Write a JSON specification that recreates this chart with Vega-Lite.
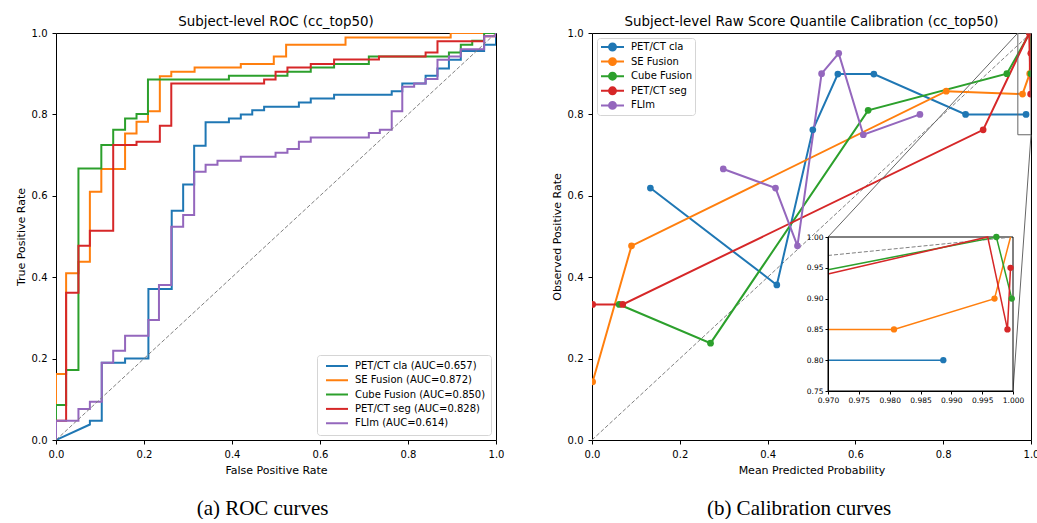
{
  "$schema": "https://vega.github.io/schema/vega-lite/v6.json",
  "background": "white",
  "padding": {"left": 14, "top": 14, "right": 0, "bottom": 0},
  "config": {
    "font": "DejaVu Sans",
    "view": {"stroke": "black", "strokeWidth": 1},
    "axis": {"grid": false, "domain": false, "labelFlush": false, "tickColor": "black", "tickSize": 4, "tickWidth": 1, "labelColor": "black", "labelFontSize": 10, "labelPadding": 5, "titleFontSize": 11, "titleFontWeight": "normal", "titleColor": "black", "titlePadding": 5, "labelFont": "DejaVu Sans", "titleFont": "DejaVu Sans"},
    "title": {"fontSize": 13.4, "fontWeight": "normal", "font": "DejaVu Sans", "color": "black"}
  },
  "datasets": {
    "roc": [
      {"m":"PET/CT cla (AUC=0.657)","k":0,"x":0,"y":0},{"m":"PET/CT cla (AUC=0.657)","k":1,"x":0.077,"y":0.038},{"m":"PET/CT cla (AUC=0.657)","k":2,"x":0.077,"y":0.047},{"m":"PET/CT cla (AUC=0.657)","k":3,"x":0.104,"y":0.047},{"m":"PET/CT cla (AUC=0.657)","k":4,"x":0.104,"y":0.19},{"m":"PET/CT cla (AUC=0.657)","k":5,"x":0.157,"y":0.19},{"m":"PET/CT cla (AUC=0.657)","k":6,"x":0.157,"y":0.2},{"m":"PET/CT cla (AUC=0.657)","k":7,"x":0.21,"y":0.2},{"m":"PET/CT cla (AUC=0.657)","k":8,"x":0.21,"y":0.371},{"m":"PET/CT cla (AUC=0.657)","k":9,"x":0.263,"y":0.371},{"m":"PET/CT cla (AUC=0.657)","k":10,"x":0.263,"y":0.563},{"m":"PET/CT cla (AUC=0.657)","k":11,"x":0.289,"y":0.563},{"m":"PET/CT cla (AUC=0.657)","k":12,"x":0.289,"y":0.628},{"m":"PET/CT cla (AUC=0.657)","k":13,"x":0.314,"y":0.628},{"m":"PET/CT cla (AUC=0.657)","k":14,"x":0.314,"y":0.723},{"m":"PET/CT cla (AUC=0.657)","k":15,"x":0.34,"y":0.723},{"m":"PET/CT cla (AUC=0.657)","k":16,"x":0.34,"y":0.781},{"m":"PET/CT cla (AUC=0.657)","k":17,"x":0.393,"y":0.781},{"m":"PET/CT cla (AUC=0.657)","k":18,"x":0.393,"y":0.79},{"m":"PET/CT cla (AUC=0.657)","k":19,"x":0.42,"y":0.79},{"m":"PET/CT cla (AUC=0.657)","k":20,"x":0.42,"y":0.8},{"m":"PET/CT cla (AUC=0.657)","k":21,"x":0.446,"y":0.8},{"m":"PET/CT cla (AUC=0.657)","k":22,"x":0.446,"y":0.81},{"m":"PET/CT cla (AUC=0.657)","k":23,"x":0.473,"y":0.81},{"m":"PET/CT cla (AUC=0.657)","k":24,"x":0.473,"y":0.819},{"m":"PET/CT cla (AUC=0.657)","k":25,"x":0.552,"y":0.819},{"m":"PET/CT cla (AUC=0.657)","k":26,"x":0.552,"y":0.829},{"m":"PET/CT cla (AUC=0.657)","k":27,"x":0.579,"y":0.829},{"m":"PET/CT cla (AUC=0.657)","k":28,"x":0.579,"y":0.839},{"m":"PET/CT cla (AUC=0.657)","k":29,"x":0.632,"y":0.839},{"m":"PET/CT cla (AUC=0.657)","k":30,"x":0.632,"y":0.848},{"m":"PET/CT cla (AUC=0.657)","k":31,"x":0.763,"y":0.848},{"m":"PET/CT cla (AUC=0.657)","k":32,"x":0.763,"y":0.857},{"m":"PET/CT cla (AUC=0.657)","k":33,"x":0.787,"y":0.857},{"m":"PET/CT cla (AUC=0.657)","k":34,"x":0.787,"y":0.876},{"m":"PET/CT cla (AUC=0.657)","k":35,"x":0.84,"y":0.876},{"m":"PET/CT cla (AUC=0.657)","k":36,"x":0.84,"y":0.895},{"m":"PET/CT cla (AUC=0.657)","k":37,"x":0.867,"y":0.895},{"m":"PET/CT cla (AUC=0.657)","k":38,"x":0.867,"y":0.913},{"m":"PET/CT cla (AUC=0.657)","k":39,"x":0.893,"y":0.913},{"m":"PET/CT cla (AUC=0.657)","k":40,"x":0.893,"y":0.934},{"m":"PET/CT cla (AUC=0.657)","k":41,"x":0.92,"y":0.934},{"m":"PET/CT cla (AUC=0.657)","k":42,"x":0.92,"y":0.956},{"m":"PET/CT cla (AUC=0.657)","k":43,"x":0.973,"y":0.956},{"m":"PET/CT cla (AUC=0.657)","k":44,"x":0.973,"y":0.971},{"m":"PET/CT cla (AUC=0.657)","k":45,"x":1.0,"y":0.971},{"m":"PET/CT cla (AUC=0.657)","k":46,"x":1.0,"y":1.0},
      {"m":"SE Fusion (AUC=0.872)","k":0,"x":0,"y":0},{"m":"SE Fusion (AUC=0.872)","k":1,"x":0,"y":0.162},{"m":"SE Fusion (AUC=0.872)","k":2,"x":0.023,"y":0.162},{"m":"SE Fusion (AUC=0.872)","k":3,"x":0.023,"y":0.41},{"m":"SE Fusion (AUC=0.872)","k":4,"x":0.051,"y":0.41},{"m":"SE Fusion (AUC=0.872)","k":5,"x":0.051,"y":0.438},{"m":"SE Fusion (AUC=0.872)","k":6,"x":0.077,"y":0.438},{"m":"SE Fusion (AUC=0.872)","k":7,"x":0.077,"y":0.61},{"m":"SE Fusion (AUC=0.872)","k":8,"x":0.103,"y":0.61},{"m":"SE Fusion (AUC=0.872)","k":9,"x":0.103,"y":0.666},{"m":"SE Fusion (AUC=0.872)","k":10,"x":0.157,"y":0.666},{"m":"SE Fusion (AUC=0.872)","k":11,"x":0.157,"y":0.753},{"m":"SE Fusion (AUC=0.872)","k":12,"x":0.183,"y":0.753},{"m":"SE Fusion (AUC=0.872)","k":13,"x":0.183,"y":0.782},{"m":"SE Fusion (AUC=0.872)","k":14,"x":0.209,"y":0.782},{"m":"SE Fusion (AUC=0.872)","k":15,"x":0.209,"y":0.808},{"m":"SE Fusion (AUC=0.872)","k":16,"x":0.236,"y":0.808},{"m":"SE Fusion (AUC=0.872)","k":17,"x":0.236,"y":0.894},{"m":"SE Fusion (AUC=0.872)","k":18,"x":0.262,"y":0.894},{"m":"SE Fusion (AUC=0.872)","k":19,"x":0.262,"y":0.905},{"m":"SE Fusion (AUC=0.872)","k":20,"x":0.315,"y":0.905},{"m":"SE Fusion (AUC=0.872)","k":21,"x":0.315,"y":0.915},{"m":"SE Fusion (AUC=0.872)","k":22,"x":0.42,"y":0.915},{"m":"SE Fusion (AUC=0.872)","k":23,"x":0.42,"y":0.924},{"m":"SE Fusion (AUC=0.872)","k":24,"x":0.495,"y":0.924},{"m":"SE Fusion (AUC=0.872)","k":25,"x":0.495,"y":0.942},{"m":"SE Fusion (AUC=0.872)","k":26,"x":0.523,"y":0.942},{"m":"SE Fusion (AUC=0.872)","k":27,"x":0.523,"y":0.971},{"m":"SE Fusion (AUC=0.872)","k":28,"x":0.658,"y":0.971},{"m":"SE Fusion (AUC=0.872)","k":29,"x":0.658,"y":0.989},{"m":"SE Fusion (AUC=0.872)","k":30,"x":0.897,"y":0.989},{"m":"SE Fusion (AUC=0.872)","k":31,"x":0.897,"y":1.0},{"m":"SE Fusion (AUC=0.872)","k":32,"x":1.0,"y":1.0},
      {"m":"Cube Fusion (AUC=0.850)","k":0,"x":0,"y":0},{"m":"Cube Fusion (AUC=0.850)","k":1,"x":0,"y":0.086},{"m":"Cube Fusion (AUC=0.850)","k":2,"x":0.023,"y":0.086},{"m":"Cube Fusion (AUC=0.850)","k":3,"x":0.023,"y":0.172},{"m":"Cube Fusion (AUC=0.850)","k":4,"x":0.051,"y":0.172},{"m":"Cube Fusion (AUC=0.850)","k":5,"x":0.051,"y":0.667},{"m":"Cube Fusion (AUC=0.850)","k":6,"x":0.103,"y":0.667},{"m":"Cube Fusion (AUC=0.850)","k":7,"x":0.103,"y":0.725},{"m":"Cube Fusion (AUC=0.850)","k":8,"x":0.13,"y":0.725},{"m":"Cube Fusion (AUC=0.850)","k":9,"x":0.13,"y":0.762},{"m":"Cube Fusion (AUC=0.850)","k":10,"x":0.157,"y":0.762},{"m":"Cube Fusion (AUC=0.850)","k":11,"x":0.157,"y":0.79},{"m":"Cube Fusion (AUC=0.850)","k":12,"x":0.183,"y":0.79},{"m":"Cube Fusion (AUC=0.850)","k":13,"x":0.183,"y":0.801},{"m":"Cube Fusion (AUC=0.850)","k":14,"x":0.209,"y":0.801},{"m":"Cube Fusion (AUC=0.850)","k":15,"x":0.209,"y":0.886},{"m":"Cube Fusion (AUC=0.850)","k":16,"x":0.393,"y":0.886},{"m":"Cube Fusion (AUC=0.850)","k":17,"x":0.393,"y":0.895},{"m":"Cube Fusion (AUC=0.850)","k":18,"x":0.526,"y":0.895},{"m":"Cube Fusion (AUC=0.850)","k":19,"x":0.526,"y":0.905},{"m":"Cube Fusion (AUC=0.850)","k":20,"x":0.579,"y":0.905},{"m":"Cube Fusion (AUC=0.850)","k":21,"x":0.579,"y":0.915},{"m":"Cube Fusion (AUC=0.850)","k":22,"x":0.632,"y":0.915},{"m":"Cube Fusion (AUC=0.850)","k":23,"x":0.632,"y":0.924},{"m":"Cube Fusion (AUC=0.850)","k":24,"x":0.711,"y":0.924},{"m":"Cube Fusion (AUC=0.850)","k":25,"x":0.711,"y":0.942},{"m":"Cube Fusion (AUC=0.850)","k":26,"x":0.893,"y":0.942},{"m":"Cube Fusion (AUC=0.850)","k":27,"x":0.893,"y":0.952},{"m":"Cube Fusion (AUC=0.850)","k":28,"x":0.92,"y":0.952},{"m":"Cube Fusion (AUC=0.850)","k":29,"x":0.92,"y":0.971},{"m":"Cube Fusion (AUC=0.850)","k":30,"x":0.946,"y":0.971},{"m":"Cube Fusion (AUC=0.850)","k":31,"x":0.946,"y":0.981},{"m":"Cube Fusion (AUC=0.850)","k":32,"x":0.973,"y":0.981},{"m":"Cube Fusion (AUC=0.850)","k":33,"x":0.973,"y":1.0},{"m":"Cube Fusion (AUC=0.850)","k":34,"x":1.0,"y":1.0},
      {"m":"PET/CT seg (AUC=0.828)","k":0,"x":0,"y":0},{"m":"PET/CT seg (AUC=0.828)","k":1,"x":0,"y":0.047},{"m":"PET/CT seg (AUC=0.828)","k":2,"x":0.023,"y":0.047},{"m":"PET/CT seg (AUC=0.828)","k":3,"x":0.023,"y":0.362},{"m":"PET/CT seg (AUC=0.828)","k":4,"x":0.051,"y":0.362},{"m":"PET/CT seg (AUC=0.828)","k":5,"x":0.051,"y":0.477},{"m":"PET/CT seg (AUC=0.828)","k":6,"x":0.077,"y":0.477},{"m":"PET/CT seg (AUC=0.828)","k":7,"x":0.077,"y":0.514},{"m":"PET/CT seg (AUC=0.828)","k":8,"x":0.13,"y":0.514},{"m":"PET/CT seg (AUC=0.828)","k":9,"x":0.13,"y":0.725},{"m":"PET/CT seg (AUC=0.828)","k":10,"x":0.183,"y":0.725},{"m":"PET/CT seg (AUC=0.828)","k":11,"x":0.183,"y":0.733},{"m":"PET/CT seg (AUC=0.828)","k":12,"x":0.236,"y":0.733},{"m":"PET/CT seg (AUC=0.828)","k":13,"x":0.236,"y":0.772},{"m":"PET/CT seg (AUC=0.828)","k":14,"x":0.262,"y":0.772},{"m":"PET/CT seg (AUC=0.828)","k":15,"x":0.262,"y":0.876},{"m":"PET/CT seg (AUC=0.828)","k":16,"x":0.473,"y":0.876},{"m":"PET/CT seg (AUC=0.828)","k":17,"x":0.473,"y":0.886},{"m":"PET/CT seg (AUC=0.828)","k":18,"x":0.499,"y":0.886},{"m":"PET/CT seg (AUC=0.828)","k":19,"x":0.499,"y":0.905},{"m":"PET/CT seg (AUC=0.828)","k":20,"x":0.526,"y":0.905},{"m":"PET/CT seg (AUC=0.828)","k":21,"x":0.526,"y":0.915},{"m":"PET/CT seg (AUC=0.828)","k":22,"x":0.579,"y":0.915},{"m":"PET/CT seg (AUC=0.828)","k":23,"x":0.579,"y":0.924},{"m":"PET/CT seg (AUC=0.828)","k":24,"x":0.632,"y":0.924},{"m":"PET/CT seg (AUC=0.828)","k":25,"x":0.632,"y":0.935},{"m":"PET/CT seg (AUC=0.828)","k":26,"x":0.734,"y":0.935},{"m":"PET/CT seg (AUC=0.828)","k":27,"x":0.734,"y":0.942},{"m":"PET/CT seg (AUC=0.828)","k":28,"x":0.84,"y":0.942},{"m":"PET/CT seg (AUC=0.828)","k":29,"x":0.84,"y":0.952},{"m":"PET/CT seg (AUC=0.828)","k":30,"x":0.867,"y":0.952},{"m":"PET/CT seg (AUC=0.828)","k":31,"x":0.867,"y":0.98},{"m":"PET/CT seg (AUC=0.828)","k":32,"x":0.973,"y":0.98},{"m":"PET/CT seg (AUC=0.828)","k":33,"x":0.973,"y":0.992},{"m":"PET/CT seg (AUC=0.828)","k":34,"x":1.0,"y":0.992},{"m":"PET/CT seg (AUC=0.828)","k":35,"x":1.0,"y":1.0},
      {"m":"FLIm (AUC=0.614)","k":0,"x":0,"y":0},{"m":"FLIm (AUC=0.614)","k":1,"x":0,"y":0.047},{"m":"FLIm (AUC=0.614)","k":2,"x":0.051,"y":0.047},{"m":"FLIm (AUC=0.614)","k":3,"x":0.051,"y":0.076},{"m":"FLIm (AUC=0.614)","k":4,"x":0.077,"y":0.076},{"m":"FLIm (AUC=0.614)","k":5,"x":0.077,"y":0.094},{"m":"FLIm (AUC=0.614)","k":6,"x":0.104,"y":0.094},{"m":"FLIm (AUC=0.614)","k":7,"x":0.104,"y":0.19},{"m":"FLIm (AUC=0.614)","k":8,"x":0.13,"y":0.19},{"m":"FLIm (AUC=0.614)","k":9,"x":0.13,"y":0.219},{"m":"FLIm (AUC=0.614)","k":10,"x":0.157,"y":0.219},{"m":"FLIm (AUC=0.614)","k":11,"x":0.157,"y":0.256},{"m":"FLIm (AUC=0.614)","k":12,"x":0.21,"y":0.256},{"m":"FLIm (AUC=0.614)","k":13,"x":0.21,"y":0.295},{"m":"FLIm (AUC=0.614)","k":14,"x":0.234,"y":0.295},{"m":"FLIm (AUC=0.614)","k":15,"x":0.234,"y":0.381},{"m":"FLIm (AUC=0.614)","k":16,"x":0.262,"y":0.381},{"m":"FLIm (AUC=0.614)","k":17,"x":0.262,"y":0.524},{"m":"FLIm (AUC=0.614)","k":18,"x":0.289,"y":0.524},{"m":"FLIm (AUC=0.614)","k":19,"x":0.289,"y":0.553},{"m":"FLIm (AUC=0.614)","k":20,"x":0.314,"y":0.553},{"m":"FLIm (AUC=0.614)","k":21,"x":0.314,"y":0.659},{"m":"FLIm (AUC=0.614)","k":22,"x":0.34,"y":0.659},{"m":"FLIm (AUC=0.614)","k":23,"x":0.34,"y":0.676},{"m":"FLIm (AUC=0.614)","k":24,"x":0.367,"y":0.676},{"m":"FLIm (AUC=0.614)","k":25,"x":0.367,"y":0.686},{"m":"FLIm (AUC=0.614)","k":26,"x":0.42,"y":0.686},{"m":"FLIm (AUC=0.614)","k":27,"x":0.42,"y":0.696},{"m":"FLIm (AUC=0.614)","k":28,"x":0.499,"y":0.696},{"m":"FLIm (AUC=0.614)","k":29,"x":0.499,"y":0.706},{"m":"FLIm (AUC=0.614)","k":30,"x":0.526,"y":0.706},{"m":"FLIm (AUC=0.614)","k":31,"x":0.526,"y":0.715},{"m":"FLIm (AUC=0.614)","k":32,"x":0.552,"y":0.715},{"m":"FLIm (AUC=0.614)","k":33,"x":0.552,"y":0.733},{"m":"FLIm (AUC=0.614)","k":34,"x":0.579,"y":0.733},{"m":"FLIm (AUC=0.614)","k":35,"x":0.579,"y":0.743},{"m":"FLIm (AUC=0.614)","k":36,"x":0.711,"y":0.743},{"m":"FLIm (AUC=0.614)","k":37,"x":0.711,"y":0.754},{"m":"FLIm (AUC=0.614)","k":38,"x":0.736,"y":0.754},{"m":"FLIm (AUC=0.614)","k":39,"x":0.736,"y":0.762},{"m":"FLIm (AUC=0.614)","k":40,"x":0.763,"y":0.762},{"m":"FLIm (AUC=0.614)","k":41,"x":0.763,"y":0.808},{"m":"FLIm (AUC=0.614)","k":42,"x":0.787,"y":0.808},{"m":"FLIm (AUC=0.614)","k":43,"x":0.787,"y":0.868},{"m":"FLIm (AUC=0.614)","k":44,"x":0.814,"y":0.868},{"m":"FLIm (AUC=0.614)","k":45,"x":0.814,"y":0.876},{"m":"FLIm (AUC=0.614)","k":46,"x":0.84,"y":0.876},{"m":"FLIm (AUC=0.614)","k":47,"x":0.84,"y":0.887},{"m":"FLIm (AUC=0.614)","k":48,"x":0.867,"y":0.887},{"m":"FLIm (AUC=0.614)","k":49,"x":0.867,"y":0.934},{"m":"FLIm (AUC=0.614)","k":50,"x":0.893,"y":0.934},{"m":"FLIm (AUC=0.614)","k":51,"x":0.893,"y":0.942},{"m":"FLIm (AUC=0.614)","k":52,"x":0.92,"y":0.942},{"m":"FLIm (AUC=0.614)","k":53,"x":0.92,"y":0.96},{"m":"FLIm (AUC=0.614)","k":54,"x":0.973,"y":0.96},{"m":"FLIm (AUC=0.614)","k":55,"x":0.973,"y":0.992},{"m":"FLIm (AUC=0.614)","k":56,"x":1.0,"y":0.992},{"m":"FLIm (AUC=0.614)","k":57,"x":1.0,"y":1.0}
    ],
    "cal": [
      {"m":"PET/CT cla","k":0,"x":0.133,"y":0.619},{"m":"PET/CT cla","k":1,"x":0.421,"y":0.381},{"m":"PET/CT cla","k":2,"x":0.503,"y":0.762},{"m":"PET/CT cla","k":3,"x":0.56,"y":0.899},{"m":"PET/CT cla","k":4,"x":0.642,"y":0.899},{"m":"PET/CT cla","k":5,"x":0.851,"y":0.8},{"m":"PET/CT cla","k":6,"x":0.9887,"y":0.8},
      {"m":"SE Fusion","k":0,"x":0.0015,"y":0.143},{"m":"SE Fusion","k":1,"x":0.09,"y":0.477},{"m":"SE Fusion","k":2,"x":0.807,"y":0.857},{"m":"SE Fusion","k":3,"x":0.9807,"y":0.85},{"m":"SE Fusion","k":4,"x":0.997,"y":0.9},{"m":"SE Fusion","k":5,"x":0.9996,"y":1.0},
      {"m":"Cube Fusion","k":0,"x":0.062,"y":0.333},{"m":"Cube Fusion","k":1,"x":0.27,"y":0.238},{"m":"Cube Fusion","k":2,"x":0.629,"y":0.81},{"m":"Cube Fusion","k":3,"x":0.945,"y":0.9},{"m":"Cube Fusion","k":4,"x":0.9973,"y":1.0},{"m":"Cube Fusion","k":5,"x":0.9998,"y":0.9},
      {"m":"PET/CT seg","k":0,"x":0.0015,"y":0.333},{"m":"PET/CT seg","k":1,"x":0.07,"y":0.333},{"m":"PET/CT seg","k":2,"x":0.891,"y":0.762},{"m":"PET/CT seg","k":3,"x":0.9959,"y":1.0},{"m":"PET/CT seg","k":4,"x":0.9991,"y":0.85},{"m":"PET/CT seg","k":5,"x":0.9996,"y":0.95},
      {"m":"FLIm","k":0,"x":0.299,"y":0.666},{"m":"FLIm","k":1,"x":0.418,"y":0.619},{"m":"FLIm","k":2,"x":0.468,"y":0.477},{"m":"FLIm","k":3,"x":0.523,"y":0.9},{"m":"FLIm","k":4,"x":0.562,"y":0.95},{"m":"FLIm","k":5,"x":0.618,"y":0.75},{"m":"FLIm","k":6,"x":0.747,"y":0.8}
    ],
    "insetLines": [
      {"m":"PET/CT cla","k":0,"x":0.97,"y":0.8},{"m":"PET/CT cla","k":1,"x":0.9887,"y":0.8},
      {"m":"SE Fusion","k":0,"x":0.97,"y":0.85},{"m":"SE Fusion","k":1,"x":0.9807,"y":0.85},{"m":"SE Fusion","k":2,"x":0.997,"y":0.9},{"m":"SE Fusion","k":3,"x":0.9996,"y":1.0},
      {"m":"Cube Fusion","k":0,"x":0.97,"y":0.947},{"m":"Cube Fusion","k":1,"x":0.9973,"y":1.0},{"m":"Cube Fusion","k":2,"x":0.9998,"y":0.9},
      {"m":"PET/CT seg","k":0,"x":0.97,"y":0.94},{"m":"PET/CT seg","k":1,"x":0.9959,"y":1.0},{"m":"PET/CT seg","k":2,"x":0.9991,"y":0.85},{"m":"PET/CT seg","k":3,"x":0.9996,"y":0.95}
    ],
    "insetPoints": [
      {"m":"PET/CT cla","x":0.9887,"y":0.8},
      {"m":"SE Fusion","x":0.9807,"y":0.85},{"m":"SE Fusion","x":0.997,"y":0.9},
      {"m":"Cube Fusion","x":0.9973,"y":1.0},{"m":"Cube Fusion","x":0.9998,"y":0.9},
      {"m":"PET/CT seg","x":0.9991,"y":0.85},{"m":"PET/CT seg","x":0.9996,"y":0.95}
    ]
  },
  "spacing": 45,
  "resolve": {"scale": {"color": "independent"}, "legend": {"color": "independent"}},
  "hconcat": [
    {
      "title": {"text": "(a) ROC curves", "orient": "bottom", "anchor": "middle", "frame": "bounds", "font": "Liberation Serif", "fontSize": 21, "fontWeight": "normal", "color": "black", "offset": 22, "dx": 3},
      "resolve": {"scale": {"color": "independent"}, "legend": {"color": "independent"}},
      "vconcat": [
        {
          "width": 440,
          "height": 407,
          "title": {"text": "Subject-level ROC (cc_top50)", "offset": 0},
          "layer": [
            {
              "data": {"name": "roc"},
              "mark": {"type": "line", "strokeWidth": 2, "clip": true},
              "encoding": {
                "x": {"field": "x", "type": "quantitative", "scale": {"domain": [0, 1], "nice": false, "zero": false}, "axis": {"title": "False Positive Rate", "values": [0, 0.2, 0.4, 0.6, 0.8, 1.0], "format": ".1f"}},
                "y": {"field": "y", "type": "quantitative", "scale": {"domain": [0, 1], "nice": false, "zero": false}, "axis": {"title": "True Positive Rate", "values": [0, 0.2, 0.4, 0.6, 0.8, 1.0], "format": ".1f"}},
                "order": {"field": "k", "type": "quantitative"},
                "color": {
                  "field": "m", "type": "nominal",
                  "scale": {"domain": ["PET/CT cla (AUC=0.657)", "SE Fusion (AUC=0.872)", "Cube Fusion (AUC=0.850)", "PET/CT seg (AUC=0.828)", "FLIm (AUC=0.614)"], "range": ["#1f77b4", "#ff7f0e", "#2ca02c", "#d62728", "#9467bd"]},
                  "legend": {"title": null, "orient": "bottom-right", "offset": 5, "padding": 5, "symbolType": "stroke", "symbolSize": 484, "symbolStrokeWidth": 2, "symbolOffset": 3, "labelOffset": 6, "labelFontSize": 10, "labelColor": "black", "clipHeight": 12, "rowPadding": 2.3, "strokeColor": "#d5d5d5", "fillColor": "white", "cornerRadius": 3}
                }
              }
            },
            {
              "data": {"values": [{"x": 0, "y": 0}, {"x": 1, "y": 1}]},
              "mark": {"type": "line", "strokeDash": [4, 2], "color": "#808080", "strokeWidth": 1},
              "encoding": {
                "x": {"field": "x", "type": "quantitative"},
                "y": {"field": "y", "type": "quantitative"}
              }
            }
          ]
        }
      ]
    },
    {
      "title": {"text": "(b) Calibration curves", "orient": "bottom", "anchor": "middle", "frame": "bounds", "font": "Liberation Serif", "fontSize": 21, "fontWeight": "normal", "color": "black", "offset": 22, "dx": 4},
      "resolve": {"scale": {"color": "independent"}, "legend": {"color": "independent"}},
      "vconcat": [
        {
          "width": 439,
          "height": 407,
          "title": {"text": "Subject-level Raw Score Quantile Calibration (cc_top50)", "offset": 0},
          "resolve": {"scale": {"x": "independent", "y": "independent"}, "axis": {"x": "independent", "y": "independent"}},
          "layer": [
            {
              "layer": [
                {
                  "data": {"values": [{"x": 0, "y": 0}, {"x": 1, "y": 1}]},
                  "mark": {"type": "line", "strokeDash": [4, 2], "color": "#808080", "strokeWidth": 1},
                  "encoding": {
                    "x": {"field": "x", "type": "quantitative", "scale": {"domain": [0, 1], "nice": false, "zero": false}, "axis": {"title": "Mean Predicted Probability", "values": [0, 0.2, 0.4, 0.6, 0.8, 1.0], "format": ".1f"}},
                    "y": {"field": "y", "type": "quantitative", "scale": {"domain": [0, 1], "nice": false, "zero": false}, "axis": {"title": "Observed Positive Rate", "values": [0, 0.2, 0.4, 0.6, 0.8, 1.0], "format": ".1f"}}
                  }
                },
                {
                  "data": {"name": "cal"},
                  "mark": {"type": "line", "strokeWidth": 2, "clip": true},
                  "encoding": {
                    "x": {"field": "x", "type": "quantitative"},
                    "y": {"field": "y", "type": "quantitative"},
                    "order": {"field": "k", "type": "quantitative"},
                    "color": {
                      "field": "m", "type": "nominal",
                      "scale": {"domain": ["PET/CT cla", "SE Fusion", "Cube Fusion", "PET/CT seg", "FLIm"], "range": ["#1f77b4", "#ff7f0e", "#2ca02c", "#d62728", "#9467bd"]},
                      "legend": {"title": null, "orient": "top-left", "offset": 5, "padding": 3, "symbolType": "M-1,0L1,0M-0.3,0A0.3,0.3,0,1,1,0.3,0A0.3,0.3,0,1,1,-0.3,0Z", "symbolSize": 529, "symbolStrokeWidth": 2, "labelOffset": 6, "labelFontSize": 10, "labelColor": "black", "clipHeight": 12, "rowPadding": 2.6, "strokeColor": "#d5d5d5", "fillColor": "white", "cornerRadius": 3,
                        "encode": {"symbols": {"update": {"fill": {"signal": "datum.value == 'PET/CT cla' ? '#1f77b4' : datum.value == 'SE Fusion' ? '#ff7f0e' : datum.value == 'Cube Fusion' ? '#2ca02c' : datum.value == 'PET/CT seg' ? '#d62728' : '#9467bd'"}, "fillOpacity": {"value": 1}}}}}
                    }
                  }
                },
                {
                  "data": {"name": "cal"},
                  "mark": {"type": "circle", "size": 45, "opacity": 1, "clip": true},
                  "encoding": {
                    "x": {"field": "x", "type": "quantitative"},
                    "y": {"field": "y", "type": "quantitative"},
                    "color": {"field": "m", "type": "nominal"}
                  }
                },
                {
                  "data": {"values": [{"x": 0.97, "x2": 1.0, "y": 0.75, "y2": 1.0}]},
                  "mark": {"type": "rect", "fill": null, "fillOpacity": 0, "stroke": "#666666", "strokeWidth": 1, "clip": true},
                  "encoding": {
                    "x": {"field": "x", "type": "quantitative"},
                    "x2": {"field": "x2"},
                    "y": {"field": "y", "type": "quantitative"},
                    "y2": {"field": "y2"}
                  }
                },
                {
                  "data": {"values": [{"x": 0.97, "y": 1.0, "x2": 0.5376, "y2": 0.4988}, {"x": 1.0, "y": 0.75, "x2": 0.959, "y2": 0.1204}]},
                  "mark": {"type": "rule", "color": "#666666", "strokeWidth": 1},
                  "encoding": {
                    "x": {"field": "x", "type": "quantitative"},
                    "x2": {"field": "x2"},
                    "y": {"field": "y", "type": "quantitative"},
                    "y2": {"field": "y2"}
                  }
                }
              ]
            },
            {
              "layer": [
                {
                  "data": {"values": [{"x": 0.97, "x2": 1.0, "y": 0.75, "y2": 1.0}]},
                  "mark": {"type": "rect", "fill": "white", "stroke": "black", "strokeWidth": 1},
                  "encoding": {
                    "x": {"field": "x", "type": "quantitative", "scale": {"domain": [0.97, 1.0], "range": [236, 421], "nice": false, "zero": false},
                      "axis": {"orient": "bottom", "offset": -49, "title": null, "values": [0.97, 0.975, 0.98, 0.985, 0.99, 0.995, 1.0], "format": ".3f", "labelFontSize": 7.5, "tickSize": 3, "labelPadding": 2, "domain": true, "domainColor": "black", "zindex": 1}},
                    "x2": {"field": "x2"},
                    "y": {"field": "y", "type": "quantitative", "scale": {"domain": [0.75, 1.0], "range": [358, 204], "nice": false, "zero": false},
                      "axis": {"orient": "left", "offset": -236, "title": null, "values": [0.75, 0.8, 0.85, 0.9, 0.95, 1.0], "format": ".2f", "labelFontSize": 7.5, "tickSize": 3, "labelPadding": 2, "domain": true, "domainColor": "black", "zindex": 1}},
                    "y2": {"field": "y2"}
                  }
                },
                {
                  "data": {"values": [{"x": 0.97, "y": 0.97}, {"x": 1.0, "y": 1.0}]},
                  "mark": {"type": "line", "strokeDash": [4, 2], "color": "#808080", "strokeWidth": 1},
                  "encoding": {
                    "x": {"field": "x", "type": "quantitative"},
                    "y": {"field": "y", "type": "quantitative"}
                  }
                },
                {
                  "data": {"name": "insetLines"},
                  "mark": {"type": "line", "strokeWidth": 1.5},
                  "encoding": {
                    "x": {"field": "x", "type": "quantitative"},
                    "y": {"field": "y", "type": "quantitative"},
                    "order": {"field": "k", "type": "quantitative"},
                    "color": {"field": "m", "type": "nominal"}
                  }
                },
                {
                  "data": {"name": "insetPoints"},
                  "mark": {"type": "circle", "size": 40, "opacity": 1},
                  "encoding": {
                    "x": {"field": "x", "type": "quantitative"},
                    "y": {"field": "y", "type": "quantitative"},
                    "color": {"field": "m", "type": "nominal"}
                  }
                }
              ]
            }
          ]
        }
      ]
    }
  ]
}
